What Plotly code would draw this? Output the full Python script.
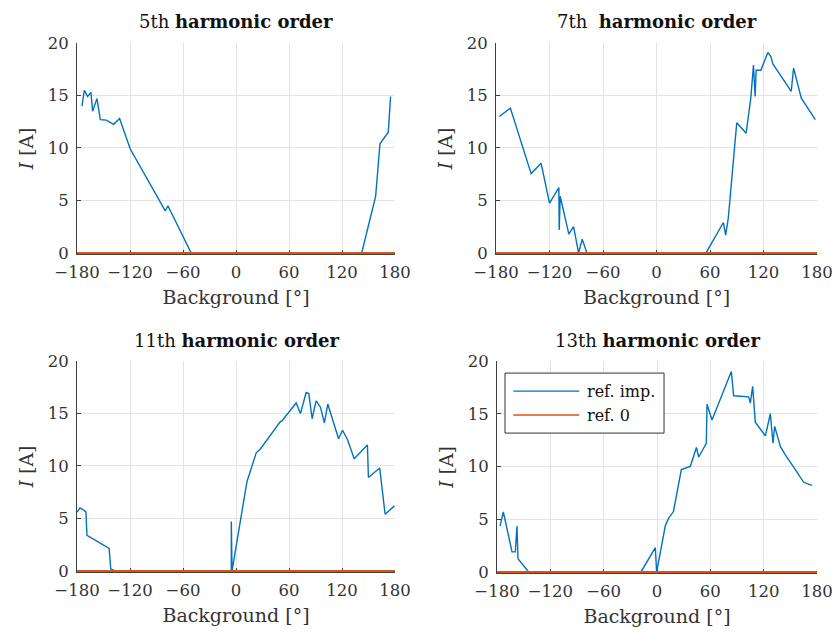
import plotly.graph_objects as go

# ---------------- data ----------------
titles = ["5th <b>harmonic order</b>", "7th  <b>harmonic order</b>",
          "11th <b>harmonic order</b>", "13th <b>harmonic order</b>"]

x5 = [-174.3, -171.7, -168.0, -164.2, -162.3, -160.4, -157.4, -153.6, -146.8, -138.5,
      -131.8, -119.7, -80.1, -77.1, -50.7, 142.3, 158.1, 163.0, 172.4, 175.0]
y5 = [14.0, 15.5, 14.9, 15.3, 13.5, 14.05, 14.7, 12.7, 12.65, 12.25,
      12.8, 9.9, 4.0, 4.5, 0, 0, 5.4, 10.4, 11.5, 14.9]

x7 = [-176.3, -163.9, -140.6, -129.4, -120.0, -109.5, -109.1, -108.0, -98.3, -93.0,
      -87.4, -83.3, -78.0, 55.5, 75.0, 77.6, 80.6, 90.0, 100.5, 105.75,
      108.75, 110.6, 111.75, 117.0, 124.9, 128.25, 130.5, 151.1, 153.75, 162.4, 178.1]
y7 = [13.0, 13.8, 7.56, 8.54, 4.75, 6.23, 2.2, 5.4, 1.8, 2.5,
      0, 1.3, 0, 0, 2.9, 1.7, 3.4, 12.4, 11.4, 14.75,
      17.9, 14.9, 17.4, 17.4, 19.1, 18.7, 18.0, 15.4, 17.6, 14.75, 12.7]

x11 = [-180.0, -176.6, -172.5, -169.9, -168.7, -143.6, -141.8, -138.0, -121.0, -5.3,
       -5.3, -4.5, 12.4, 22.9, 27.4, 50.0, 52.0, 68.1, 73.0, 79.4,
       82.4, 86.2, 90.7, 95.6, 100.1, 103.9, 116.1, 120.6, 126.3, 133.8,
       148.8, 149.9, 162.7, 168.8, 179.4]
y11 = [5.6, 6.0, 5.8, 5.6, 3.4, 2.15, 0.2, 0.05, 0, 0,
       4.7, 0, 8.5, 11.25, 11.6, 14.2, 14.3, 16.0, 15.0, 17.0,
       16.9, 14.5, 16.2, 15.6, 14.1, 15.9, 12.6, 13.4, 12.5, 10.7,
       12.0, 8.9, 9.8, 5.4, 6.2]

x13 = [-176.6, -172.9, -163.1, -159.4, -157.5, -156.4, -144.4, -18.0, -1.9, -0.4,
       9.4, 13.1, 18.4, 27.4, 37.5, 44.3, 46.9, 55.5, 56.25, 61.9,
       83.6, 86.25, 103.1, 105.0, 107.6, 110.6, 121.9, 127.5, 130.5, 132.4,
       138.75, 144.4, 155.6, 165.0, 174.4]
y13 = [4.35, 5.7, 1.9, 1.9, 4.35, 1.25, 0, 0, 2.3, 0,
       4.4, 5.1, 5.7, 9.7, 10.0, 11.8, 10.9, 12.2, 15.9, 14.4,
       19.0, 16.7, 16.6, 16.0, 17.6, 14.2, 12.9, 15.0, 12.2, 13.8,
       11.9, 11.1, 9.7, 8.5, 8.2]

ref0_x = [-180, 180]
ref0_y = [0, 0]

x_ticks = [-180, -120, -60, 0, 60, 120, 180]
y_ticks = [0, 5, 10, 15, 20]
series_names = ["ref. imp.", "ref. 0"]

BLUE = "#0072BD"
ORANGE = "#D95319"
FONT = "DejaVu Serif"

blue_x = [x5, x7, x11, x13]
blue_y = [y5, y7, y11, y13]

# ---------------- layout geometry ----------------
W, H = 833, 633
px_x = [(77, 395), (496, 817), (77, 395), (497, 817)]
px_y = [(43, 254), (43, 254), (361, 572), (361, 573)]

fig = go.Figure()
for i in range(4):
    ax = "" if i == 0 else str(i + 1)
    fig.add_trace(go.Scatter(x=blue_x[i], y=blue_y[i], mode="lines",
                             line=dict(color=BLUE, width=1.4),
                             name=series_names[0], showlegend=False,
                             xaxis="x" + ax, yaxis="y" + ax))
    fig.add_trace(go.Scatter(x=ref0_x, y=ref0_y, mode="lines",
                             line=dict(color=ORANGE, width=2),
                             name=series_names[1], showlegend=False,
                             xaxis="x" + ax, yaxis="y" + ax))
    x0, x1 = px_x[i]
    y0, y1 = px_y[i]
    common = dict(showline=True, linecolor="#404040", linewidth=1,
                  ticks="inside", ticklen=4, tickcolor="#404040",
                  showgrid=True, gridcolor="#e3e3e3", gridwidth=1,
                  zeroline=False, mirror=False, automargin=False,
                  layer="below traces", ticklabeloverflow="allow",
                  tickfont=dict(family=FONT, size=16.5, color="#333333"))
    fig.layout["xaxis" + ax] = dict(
        common, domain=[x0 / W, x1 / W], range=[-180, 180],
        tickvals=x_ticks, anchor="y" + ax, ticklabelstandoff=3,
        title=dict(text="Background [°]", standoff=9,
                   font=dict(family=FONT, size=19, color="#333333")))
    fig.layout["yaxis" + ax] = dict(
        common, domain=[1 - y1 / H, 1 - y0 / H], range=[-0.1, 20],
        tickvals=y_ticks, anchor="x" + ax, ticklabelstandoff=4,
        title=dict(text="<i>I</i> [A]", standoff=9,
                   font=dict(family=FONT, size=19, color="#333333")))
    fig.add_annotation(text=titles[i], xref="paper", yref="paper",
                       x=(x0 + x1) / 2 / W, y=1 - (y0 - 21) / H,
                       showarrow=False, xanchor="center", yanchor="middle",
                       font=dict(family=FONT, size=18, color="#111111"))

# ---------------- legend (panel 4) ----------------
fig.add_shape(type="rect", xref="x4 domain", yref="y4 domain",
              x0=0.025, x1=0.522, y0=0.660, y1=0.943,
              line=dict(color="#333333", width=1), fillcolor="white", layer="above")
for name, col, yy in [(series_names[0], BLUE, 0.858), (series_names[1], ORANGE, 0.745)]:
    fig.add_shape(type="line", xref="x4 domain", yref="y4 domain",
                  x0=0.051, x1=0.257, y0=yy, y1=yy,
                  line=dict(color=col, width=1.4), layer="above")
    fig.add_annotation(text=name, xref="x4 domain", yref="y4 domain",
                       x=0.275, y=yy, xanchor="left", yanchor="middle",
                       showarrow=False,
                       font=dict(family=FONT, size=16, color="#111111"))

fig.update_layout(width=W, height=H, margin=dict(l=0, r=0, t=0, b=0),
                  paper_bgcolor="white", plot_bgcolor="white",
                  showlegend=False, hovermode=False)
fig.write_html("out.html",
               config={"displayModeBar": False, "staticPlot": True},
               post_script="document.body.style.margin='0';document.body.style.overflow='hidden';")
